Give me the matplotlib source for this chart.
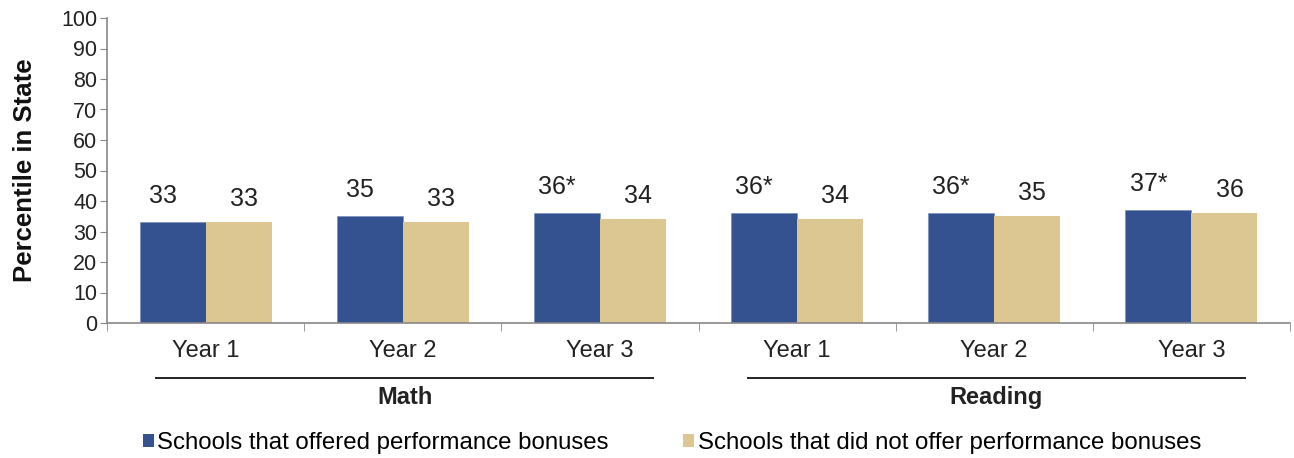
import matplotlib
matplotlib.use("Agg")
import matplotlib.pyplot as plt
from matplotlib.patches import Patch
import matplotlib.transforms as mtransforms
import numpy as np

plt.rcParams['font.family'] = ['Liberation Sans', 'DejaVu Sans']

years = ["Year 1", "Year 2", "Year 3", "Year 1", "Year 2", "Year 3"]
subjects = ["Math", "Reading"]
subject_groups = [[0, 1, 2], [3, 4, 5]]
offered = [33, 35, 36, 36, 36, 37]
not_offered = [33, 33, 34, 34, 35, 36]
offered_labels = ["33", "35", "36*", "36*", "36*", "37*"]
not_offered_labels = ["33", "33", "34", "34", "35", "36"]
series_names = ["Schools that offered performance bonuses",
                "Schools that did not offer performance bonuses"]
yticks = list(range(0, 101, 10))

BLUE = "#34528F"
TAN = "#DCC792"
AXC = "#888888"

fig = plt.figure(figsize=(12.94, 4.58), dpi=100)
ax = fig.add_axes([107/1294, 1-323/458, 1183/1294, 305/458])

x = np.arange(len(years))
w = 0.335
b1 = ax.bar(x - w/2, offered, w, color=BLUE, edgecolor="#6f86b8", linewidth=0.4)
b2 = ax.bar(x + w/2, not_offered, w, color=TAN, edgecolor="none")

for rect, lab in zip(b1, offered_labels):
    ax.annotate(lab, (rect.get_x() + rect.get_width()/2, rect.get_height()),
                xytext=(-10, 26), textcoords="offset pixels", ha="center", va="center",
                fontsize=18, color="#222222")
for rect, lab in zip(b2, not_offered_labels):
    ax.annotate(lab, (rect.get_x() + rect.get_width()/2, rect.get_height()),
                xytext=(5, 23), textcoords="offset pixels", ha="center", va="center",
                fontsize=18, color="#222222")

ax.set_xlim(-0.5, len(years) - 0.5)
ax.set_ylim(0, 100)
ax.set_yticks(yticks)
ax.tick_params(axis="y", labelsize=15.5, direction="out", length=5, color=AXC, pad=2,
               labelcolor="#222222")
ax.set_xticks(x)
ax.set_xticklabels(years, fontsize=17, color="#222222")
ax.tick_params(axis="x", which="major", length=0, pad=12)
ax.set_xticks(np.arange(-0.5, len(years), 1.0), minor=True)
ax.tick_params(axis="x", which="minor", length=6, color=AXC, direction="out")

for s in ["top", "right"]:
    ax.spines[s].set_visible(False)
for s in ["left", "bottom"]:
    ax.spines[s].set_color(AXC)
    ax.spines[s].set_linewidth(1.2)

ax.set_ylabel("Percentile in State", fontsize=18.5, fontweight="bold", color="#111111")
ax.yaxis.set_label_coords(-0.059, 0.5)

trans = mtransforms.blended_transform_factory(ax.transData, ax.transAxes)
for name, idx in zip(subjects, subject_groups):
    x0 = x[idx[0]] - 0.25
    x1 = x[idx[-1]] + 0.27
    ax.plot([x0, x1], [-0.180, -0.180], color="#222222", linewidth=1.4,
            transform=trans, clip_on=False)
    ax.text((x0 + x1) / 2, -0.243, name, transform=trans, ha="center", va="center",
            fontsize=17, fontweight="bold", color="#222222")

handles = [Patch(facecolor=BLUE, edgecolor="none"), Patch(facecolor=TAN, edgecolor="none")]
fig.legend(handles, series_names, loc="center left", bbox_to_anchor=(143/1294, 1-443/458),
           ncol=2, frameon=False, fontsize=17.3, handlelength=0.45, handleheight=0.45,
           handletextpad=0.15, columnspacing=3.1, borderpad=0, borderaxespad=0)

fig.savefig("out.png", dpi=100)
